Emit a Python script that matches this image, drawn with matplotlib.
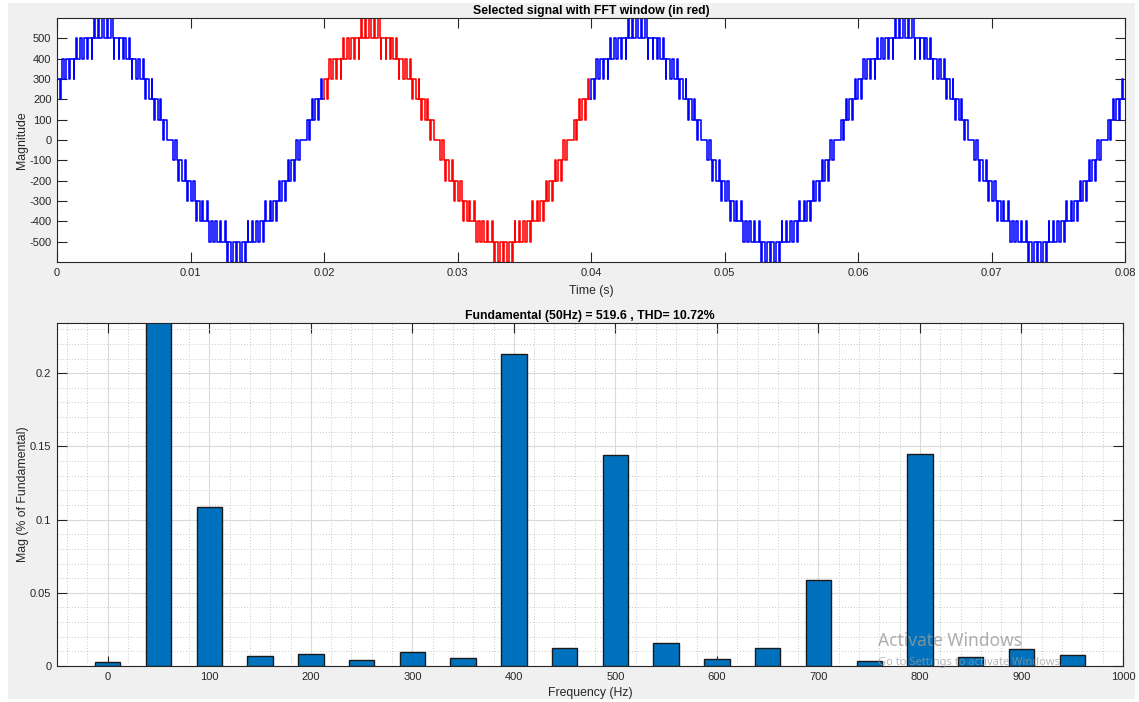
import numpy as np
import matplotlib
matplotlib.use("Agg")
import matplotlib.pyplot as plt
from matplotlib.ticker import MultipleLocator
from matplotlib.patches import Rectangle

plt.rcParams["font.family"] = ["Liberation Sans", "DejaVu Sans"]
plt.rcParams["font.size"] = 8
plt.rcParams["axes.unicode_minus"] = False

# inverter output, rising quarter of one cycle:
# switching instants in ms after the upward zero crossing, level (x100) after each edge
q_times = [0.0, 0.243, 0.424, 0.53, 0.63, 0.70, 0.899, 1.101, 1.18, 1.30,
           1.37, 1.567, 1.767, 1.85, 1.96, 2.04, 2.253, 2.413, 2.523, 2.811,
           2.84, 2.95, 3.05, 3.25, 3.417, 3.542, 3.792, 3.842, 4.158, 4.18,
           4.29, 4.38, 4.60, 4.73, 4.93]
q_levels = [0, 1, 0, 1, 2, 1, 2, 1, 2, 3,
            2, 3, 2, 3, 4, 3, 4, 3, 4, 3,
            4, 5, 4, 5, 4, 5, 4, 5, 4, 5,
            6, 5, 6, 5, 6]
level_step = 100
zero_cross_ms = 18.45
fft_window = (0.02, 0.04)

# FFT of the selected window
freqs = [0, 50, 100, 150, 200, 250, 300, 350, 400, 450,
         500, 550, 600, 650, 700, 750, 800, 850, 900, 950]
mags = [0.0025, 100, 0.1085, 0.0068, 0.0080, 0.0043, 0.0096, 0.0055, 0.2130, 0.0123,
        0.1440, 0.0157, 0.0048, 0.0123, 0.0587, 0.0034, 0.1447, 0.0059, 0.0118, 0.0077]
fund_hz = 50
fund_mag = 519.6
thd = 10.72

# build one full cycle from the quarter (mirror about the peak, then negate)
ends = q_times[1:] + [5.0]
fall_t = [10 - e for e in reversed(ends)]
fall_l = list(reversed(q_levels))
half_t = q_times + fall_t
half_l = q_levels + fall_l
period_t = half_t + [t + 10 for t in half_t]
period_l = half_l + [-l for l in half_l]

t0 = zero_cross_ms - 40
ts = np.concatenate([np.array(period_t) + t0 + 20 * p for p in range(7)]) / 1000
lv = np.tile(period_l, 7) * level_step


def segment(a, b):
    i = np.searchsorted(ts, a, side="right") - 1
    j = np.searchsorted(ts, b, side="left")
    x = np.concatenate([[a], ts[i + 1:j], [b]])
    y = np.concatenate([[lv[i]], lv[i + 1:j], [lv[j - 1]]])
    return x, y


W, H = 1139, 702
fig = plt.figure(figsize=(W / 100, H / 100), dpi=100, facecolor="white")
fig.patches.append(Rectangle((8 / W, 3 / H), (W - 12) / W, (H - 6) / H,
                             transform=fig.transFigure, facecolor="#f0f0f0",
                             edgecolor="none", zorder=-10))

dark = "#262626"
tsize = 8.8

# signal
ax1 = fig.add_axes([57 / W, (H - 262) / H, 1068 / W, 244 / H])
for a, b, c in [(0, fft_window[0], "b"), (fft_window[0], fft_window[1], "r"),
                (fft_window[1], 0.08, "b")]:
    x, y = segment(a, b)
    ax1.plot(x, y, color=c, lw=1.15, drawstyle="steps-post")
ax1.set_xlim(0, 0.08)
ax1.set_ylim(-600, 600)
ax1.set_xticks(np.arange(0, 0.081, 0.01))
ax1.set_xticklabels(["0"] + ["%.2f" % v for v in np.arange(0.01, 0.081, 0.01)])
ax1.set_yticks(np.arange(-500, 501, 100))
ax1.set_title("Selected signal with FFT window (in red)", fontsize=tsize,
              fontweight="bold", pad=3)
ax1.set_xlabel("Time (s)", fontsize=tsize, labelpad=5)
ax1.set_ylabel("Magnitude", fontsize=tsize, labelpad=1)

# spectrum
ax2 = fig.add_axes([57 / W, (H - 666) / H, 1066 / W, 343 / H])
ax2.set_axisbelow(True)
ax2.bar(freqs, mags, width=25, color="#0072BD", edgecolor="#1a1a1a", lw=1.0)
ax2.set_xlim(-50, 1000)
ax2.set_ylim(0, 1.1 * max(m for m in mags if m < 1))
ax2.set_xticks(np.arange(0, 1001, 100))
ax2.set_yticks([0, 0.05, 0.1, 0.15, 0.2])
ax2.set_yticklabels(["0", "0.05", "0.1", "0.15", "0.2"])
ax2.xaxis.set_minor_locator(MultipleLocator(20))
ax2.yaxis.set_minor_locator(MultipleLocator(0.01))
ax2.grid(which="major", color="#d9d9d9", lw=0.8, ls="-")
ax2.grid(which="minor", color="#c8c8c8", lw=0.7, ls=(0, (1, 2)))
ax2.set_title("Fundamental (%dHz) = %.1f , THD= %.2f%%" % (fund_hz, fund_mag, thd),
              fontsize=tsize, fontweight="bold", pad=3)
ax2.set_xlabel("Frequency (Hz)", fontsize=tsize, labelpad=4)
ax2.set_ylabel("Mag (% of Fundamental)", fontsize=tsize, labelpad=1)

for ax in (ax1, ax2):
    ax.set_facecolor("white")
    for s in ax.spines.values():
        s.set_color(dark)
        s.set_linewidth(0.8)
    ax.tick_params(which="major", direction="in", length=7, width=0.8,
                   top=True, right=True, colors=dark, labelsize=8, pad=4)
    ax.tick_params(which="minor", length=0)
    ax.xaxis.label.set_color(dark)
    ax.yaxis.label.set_color(dark)

fig.text(878 / W, 1 - 641 / H, "Activate Windows", fontsize=12.5, color="#9a9a9a",
         alpha=0.8, va="center", family=["Noto Sans", "DejaVu Sans"])
fig.text(878 / W, 1 - 662 / H, "Go to Settings to activate Windows.", fontsize=8,
         color="#9a9a9a", alpha=0.7, va="center", family=["Noto Sans", "DejaVu Sans"])

fig.savefig("out.png", dpi=100, facecolor=fig.get_facecolor())
